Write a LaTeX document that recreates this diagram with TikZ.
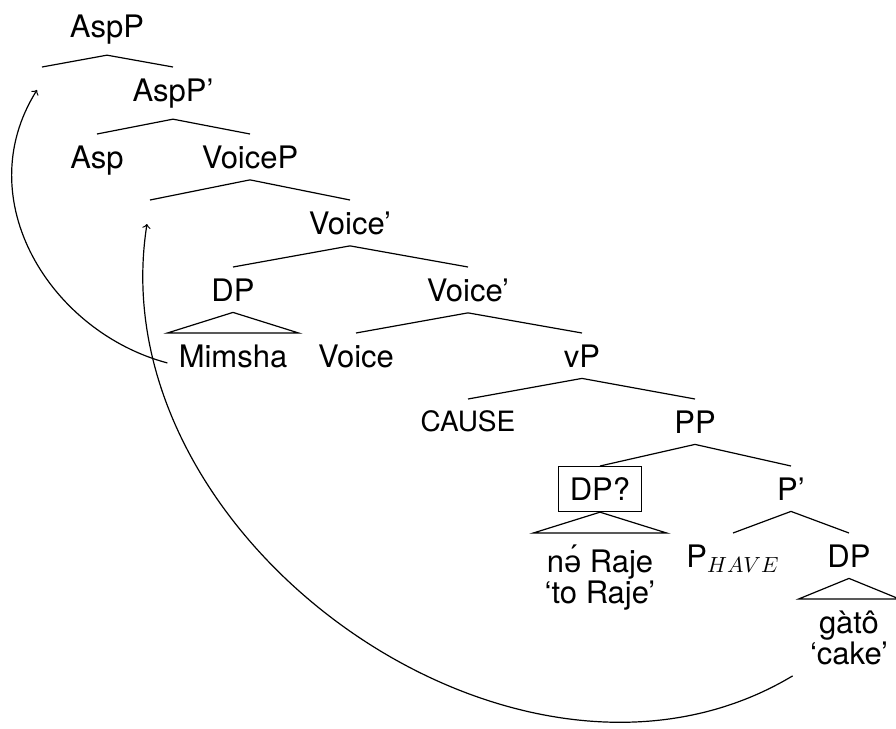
\documentclass[tikz,border=0pt]{standalone}
\usepackage{fontspec}
\setmainfont{TeX Gyre Heros}
\newfontfamily\ipafont{Liberation Sans}
\begin{document}
\begin{tikzpicture}[x=0.5pt,y=-0.5pt,
  lbl/.style={font=\fontsize{15.5}{15.5}\selectfont, inner sep=5.5pt, anchor=north},
  br/.style={line width=0.6pt},
  mv/.style={line width=0.6pt, ->}]
\useasboundingbox (0,0) rectangle (896,729);
% nodes
\node[lbl] (AspP) at (107,3) {AspP};
\coordinate (t1) at (42,67);
\node[lbl] (AspPb) at (173,67) {AspP’};
\node[lbl] (Asp) at (97,134) {Asp};
\node[lbl] (VoiceP) at (250,134) {VoiceP};
\coordinate (t2) at (150,200);
\node[lbl] (Vb1) at (350,200) {Voice’};
\node[lbl] (DP1) at (233,267) {DP};
\node[lbl] (Vb2) at (468,267) {Voice’};
\node[lbl] (Mim) at (233,333) {Mimsha};
\node[lbl] (Voice) at (356,333) {Voice};
\node[lbl] (vP) at (582,333) {vP};
\node[lbl, font=\fontsize{14}{14}\selectfont] (Cause) at (468,399) {CAUSE};
\node[lbl] (PP) at (695,399) {PP};
\node[lbl, draw, line width=0.6pt] (DPq) at (600,466) {DP?};
\node[lbl] (P1) at (791,466) {P’};
\node[lbl, align=center] (Raje) at (600,533) {n{\ipafont ə́} Raje\\‘to Raje’};
\node[lbl] (Phave) at (733,533) {P$_{HAVE}$};
\node[lbl] (DP3) at (849,533) {DP};
\node[lbl, align=center] (gato) at (849,599) {gàtô\\‘cake’};
\coordinate (a1) at (37,90);
\coordinate (a2) at (147,224);
% branches
\draw[br] (AspP.south) -- (t1);
\draw[br] (AspP.south) -- (AspPb.north);
\draw[br] (AspPb.south) -- (Asp.north);
\draw[br] (AspPb.south) -- (VoiceP.north);
\draw[br] (VoiceP.south) -- (t2);
\draw[br] (VoiceP.south) -- (Vb1.north);
\draw[br] (Vb1.south) -- (DP1.north);
\draw[br] (Vb1.south) -- (Vb2.north);
\draw[br] (DP1.south) -- (Mim.north west) -- (Mim.north east) -- cycle;
\draw[br] (Vb2.south) -- (Voice.north);
\draw[br] (Vb2.south) -- (vP.north);
\draw[br] (vP.south) -- (Cause.north);
\draw[br] (vP.south) -- (PP.north);
\draw[br] (PP.south) -- (DPq.north);
\draw[br] (PP.south) -- (P1.north);
\draw[br] (DPq.south) -- (Raje.north west) -- (Raje.north east) -- cycle;
\draw[br] (P1.south) -- (Phave.north);
\draw[br] (P1.south) -- (DP3.north);
\draw[br] (DP3.south) -- (gato.north west) -- (gato.north east) -- cycle;
% movement arrows
\draw[mv] ([yshift=-3.5pt]Mim.west) .. controls (51,332) and (-32,200) .. (a1);
\draw[mv] ([xshift=-3pt]gato.south west) .. controls (519,840) and (97,540) .. (a2);
\end{tikzpicture}
\end{document}
